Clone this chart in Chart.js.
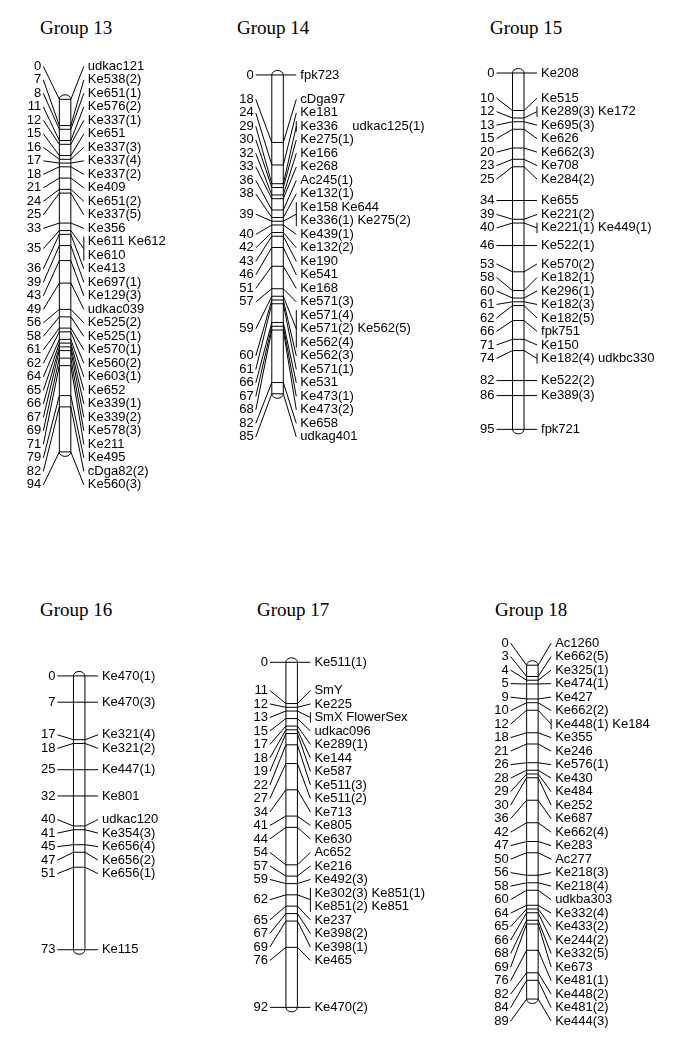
<!DOCTYPE html>
<html>
<head>
<meta charset="utf-8">
<script src="https://cdn.jsdelivr.net/npm/chart.js@4.4.1/dist/chart.umd.min.js"></script>
<style>
    body { margin: 0; background: #fff; }
    #page { position: relative; width: 685px; height: 1049px; overflow: hidden; background: #fff; }
    #page canvas { position: absolute; }
    .title {
        position: absolute;
        font-family: "Liberation Serif", "Times New Roman", serif;
        font-size: 19px;
        line-height: 19px;
        color: #000;
        white-space: nowrap;
    }
</style>
</head>
<body>
<div id="page"></div>
<script>
// Positions (cM) and marker names, one pair of arrays per linkage group.
// Several markers at one position are on one line; '|' starts a new line.
var pos13 = [0, 7, 8, 11, 12, 15, 16, 17, 18, 21, 24, 25, 33, 35, 36, 39, 43, 49, 56, 58, 61, 62, 64, 65, 66, 67, 69, 71, 79, 82, 94];
var names13 = ["udkac121", "Ke538(2)", "Ke651(1)", "Ke576(2)", "Ke337(1)", "Ke651", "Ke337(3)", "Ke337(4)", "Ke337(2)", "Ke409",
    "Ke651(2)", "Ke337(5)", "Ke356", "Ke611 Ke612|Ke610", "Ke413", "Ke697(1)", "Ke129(3)", "udkac039", "Ke525(2)", "Ke525(1)",
    "Ke570(1)", "Ke560(2)", "Ke603(1)", "Ke652", "Ke339(1)", "Ke339(2)", "Ke578(3)", "Ke211", "Ke495", "cDga82(2)", "Ke560(3)"];

var pos14 = [0, 18, 24, 29, 30, 32, 33, 36, 38, 39, 40, 42, 43, 46, 51, 57, 59, 60, 61, 66, 67, 68, 82, 85];
var names14 = ["fpk723", "cDga97", "Ke181", "Ke336    udkac125(1)", "Ke275(1)", "Ke166", "Ke268", "Ac245(1)", "Ke132(1)",
    "Ke158 Ke644|Ke336(1) Ke275(2)", "Ke439(1)", "Ke132(2)", "Ke190", "Ke541", "Ke168", "Ke571(3)",
    "Ke571(4)|Ke571(2) Ke562(5)|Ke562(4)", "Ke562(3)", "Ke571(1)", "Ke531", "Ke473(1)", "Ke473(2)", "Ke658", "udkag401"];

var pos15 = [0, 10, 12, 13, 15, 20, 23, 25, 34, 39, 40, 46, 53, 58, 60, 61, 62, 66, 71, 74, 82, 86, 95];
var names15 = ["Ke208", "Ke515", "Ke289(3) Ke172", "Ke695(3)", "Ke626", "Ke662(3)", "Ke708", "Ke284(2)", "Ke655", "Ke221(2)",
    "Ke221(1) Ke449(1)", "Ke522(1)", "Ke570(2)", "Ke182(1)", "Ke296(1)", "Ke182(3)", "Ke182(5)", "fpk751", "Ke150",
    "Ke182(4) udkbc330", "Ke522(2)", "Ke389(3)", "fpk721"];

var pos16 = [0, 7, 17, 18, 25, 32, 40, 41, 45, 47, 51, 73];
var names16 = ["Ke470(1)", "Ke470(3)", "Ke321(4)", "Ke321(2)", "Ke447(1)", "Ke801", "udkac120", "Ke354(3)", "Ke656(4)",
    "Ke656(2)", "Ke656(1)", "Ke115"];

var pos17 = [0, 11, 12, 13, 15, 17, 18, 19, 22, 27, 34, 41, 44, 54, 57, 59, 62, 65, 67, 69, 76, 92];
var names17 = ["Ke511(1)", "SmY", "Ke225", "SmX FlowerSex", "udkac096", "Ke289(1)", "Ke144", "Ke587", "Ke511(3)", "Ke511(2)",
    "Ke713", "Ke805", "Ke630", "Ac652", "Ke216", "Ke492(3)", "Ke302(3) Ke851(1)|Ke851(2) Ke851", "Ke237", "Ke398(2)",
    "Ke398(1)", "Ke465", "Ke470(2)"];

var pos18 = [0, 3, 4, 5, 9, 10, 12, 18, 21, 26, 28, 29, 30, 36, 42, 47, 50, 56, 58, 60, 64, 65, 66, 68, 69, 76, 82, 84, 89];
var names18 = ["Ac1260", "Ke662(5)", "Ke325(1)", "Ke474(1)", "Ke427", "Ke662(2)", "Ke448(1) Ke184", "Ke355", "Ke246",
    "Ke576(1)", "Ke430", "Ke484", "Ke252", "Ke687", "Ke662(4)", "Ke283", "Ac277", "Ke218(3)", "Ke218(4)", "udkba303",
    "Ke332(4)", "Ke433(2)", "Ke244(2)", "Ke332(5)", "Ke673", "Ke481(1)", "Ke448(2)", "Ke481(2)", "Ke444(3)"];

var groupTitles = ["Group 13", "Group 14", "Group 15", "Group 16", "Group 17", "Group 18"];

// page layout (pixels)
var PX_PER_CM = 3.85;
var HALF = 5.75;       // half width of a chromosome
var CAP = 4.5;         // height of the rounded ends
var LINE_H = 13.5;     // label line spacing
var LABEL_FONT = '13px "Liberation Sans", Arial, sans-serif';

var layout = [
    { left: 0,   top: 0,   width: 228, height: 525, cx: 62,    y0: 95,  tx: 40,  ty: 18 },
    { left: 228, top: 0,   width: 228, height: 525, cx: 273.5, y0: 70,  tx: 237, ty: 18 },
    { left: 456, top: 0,   width: 229, height: 525, cx: 515,   y0: 68,  tx: 490, ty: 18 },
    { left: 0,   top: 525, width: 228, height: 524, cx: 77,    y0: 673, tx: 40,  ty: 600 },
    { left: 228, top: 525, width: 228, height: 524, cx: 288.5, y0: 659, tx: 257, ty: 600 },
    { left: 456, top: 525, width: 229, height: 524, cx: 530,   y0: 662, tx: 495, ty: 600 }
];

// stack labels from the first one on; a merged run of labels is centred
// between the marks of its first and last label
function spreadForward(desired, heights) {
    function midTop(c) {
        var firstOff = heights[c.start] / 2, lastOff = c.h - heights[c.end] / 2;
        return (desired[c.start] + desired[c.end]) / 2 - (firstOff + lastOff) / 2;
    }
    var clusters = [];
    for (var i = 0; i < desired.length; i++) {
        clusters.push({ start: i, end: i, top: desired[i] - heights[i] / 2, h: heights[i] });
        while (clusters.length > 1) {
            var a = clusters[clusters.length - 2], b = clusters[clusters.length - 1];
            if (a.top + a.h <= b.top + 0.01) break;
            var m = { start: a.start, end: b.end, h: a.h + b.h };
            m.top = midTop(m);
            clusters.splice(clusters.length - 2, 2, m);
        }
    }
    var centers = [];
    clusters.forEach(function(c) {
        var y = c.top;
        for (var k = c.start; k <= c.end; k++) {
            centers.push(y + heights[k] / 2);
            y += heights[k];
        }
    });
    return centers;
}

function displacement(centers, desired) {
    var s = 0;
    centers.forEach(function(c, i) { s += (c - desired[i]) * (c - desired[i]); });
    return s;
}

// try both directions and keep the one that moves the labels least
function spreadLabels(desired, heights) {
    var fwd = spreadForward(desired, heights);
    var rev = spreadForward(desired.map(function(d) { return -d; }).reverse(), heights.slice().reverse())
        .map(function(c) { return -c; }).reverse();
    return displacement(rev, desired) < displacement(fwd, desired) ? rev : fwd;
}

function linkagePlugin(positions, names) {
    return {
        id: 'linkageMap',
        beforeDatasetsDraw: function(chart) {
            var ctx = chart.ctx;
            var xs = chart.scales.x, ys = chart.scales.y;
            var cx = xs.getPixelForValue(chart.options.chromX);
            var top = ys.getPixelForValue(positions[0]);
            var bot = ys.getPixelForValue(positions[positions.length - 1]);
            ctx.save();
            ctx.beginPath();
            ctx.moveTo(cx - HALF, top);
            ctx.ellipse(cx, top, HALF, CAP, 0, Math.PI, 2 * Math.PI);
            ctx.lineTo(cx + HALF, bot);
            ctx.ellipse(cx, bot, HALF, CAP, 0, 0, Math.PI);
            ctx.closePath();
            ctx.fillStyle = '#fff';
            ctx.fill();
            ctx.lineWidth = 1;
            ctx.strokeStyle = '#000';
            ctx.stroke();
            ctx.restore();
        },
        afterDatasetsDraw: function(chart) {
            var ctx = chart.ctx;
            var xs = chart.scales.x, ys = chart.scales.y;
            var cx = xs.getPixelForValue(chart.options.chromX);
            var chromL = cx - HALF, chromR = cx + HALF;
            var numRight = chromL - 18, nameLeft = chromR + 17;

            var lines = names.map(function(n) { return n.split('|'); });
            var heights = lines.map(function(l) { return l.length * LINE_H; });
            var ticks = positions.map(function(p) { return ys.getPixelForValue(p); });
            var centers = spreadLabels(ticks, heights);

            ctx.save();
            ctx.strokeStyle = '#000';
            ctx.lineWidth = 1;
            ctx.fillStyle = '#000';
            ctx.font = LABEL_FONT;
            ctx.textBaseline = 'middle';
            positions.forEach(function(p, i) {
                var ty = ticks[i], ly = centers[i];
                ctx.beginPath();
                ctx.moveTo(numRight + 2, ly);
                ctx.lineTo(chromL, ty);
                ctx.moveTo(chromR, ty);
                ctx.lineTo(nameLeft - 4, ly);
                ctx.stroke();

                // bracket when several markers share a position
                if (lines[i].length > 1 || names[i].indexOf(' ') >= 0) {
                    ctx.beginPath();
                    ctx.moveTo(nameLeft - 4, ly - heights[i] / 2 + 1.5);
                    ctx.lineTo(nameLeft - 4, ly + heights[i] / 2 - 1.5);
                    ctx.stroke();
                }

                ctx.textAlign = 'right';
                ctx.fillText(String(p), numRight, ly);
                ctx.textAlign = 'left';
                lines[i].forEach(function(t, k) {
                    ctx.fillText(t, nameLeft, ly - heights[i] / 2 + LINE_H * (k + 0.5));
                });
            });
            ctx.restore();
        }
    };
}

document.addEventListener('DOMContentLoaded', function() {
    var page = document.getElementById('page');
    var allPos = [pos13, pos14, pos15, pos16, pos17, pos18];
    var allNames = [names13, names14, names15, names16, names17, names18];

    layout.forEach(function(g, i) {
        var title = document.createElement('div');
        title.className = 'title';
        title.style.left = g.tx + 'px';
        title.style.top = g.ty + 'px';
        title.textContent = groupTitles[i];
        page.appendChild(title);

        var canvas = document.createElement('canvas');
        canvas.width = g.width;
        canvas.height = g.height;
        canvas.style.left = g.left + 'px';
        canvas.style.top = g.top + 'px';
        page.appendChild(canvas);

        var chromX = g.cx - g.left;
        new Chart(canvas.getContext('2d'), {
            type: 'scatter',
            data: {
                datasets: [{
                    data: allPos[i].map(function(p) { return { x: chromX, y: p }; }),
                    pointStyle: 'line',
                    radius: HALF,
                    borderColor: '#000',
                    backgroundColor: '#000',
                    borderWidth: 1
                }]
            },
            options: {
                responsive: false,
                animation: false,
                events: [],
                devicePixelRatio: 1,
                chromX: chromX,
                layout: { padding: 0 },
                plugins: { legend: { display: false }, tooltip: { enabled: false } },
                scales: {
                    x: { type: 'linear', display: false, min: 0, max: g.width },
                    y: {
                        type: 'linear', display: false, reverse: true,
                        min: (g.top - g.y0) / PX_PER_CM,
                        max: (g.top + g.height - g.y0) / PX_PER_CM
                    }
                }
            },
            plugins: [linkagePlugin(allPos[i], allNames[i])]
        });
    });
});
</script>
</body>
</html>
